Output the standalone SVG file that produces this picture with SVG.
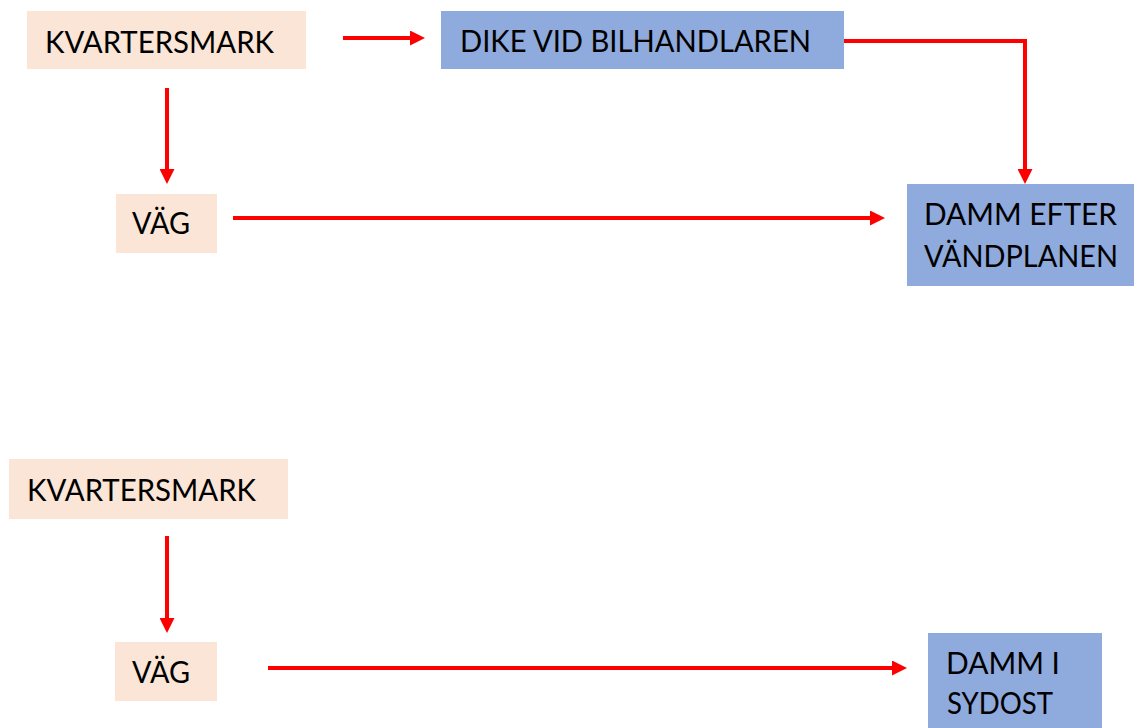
<svg xmlns="http://www.w3.org/2000/svg" width="1134" height="728" viewBox="0 0 1134 728">
<style>
.beige{fill:#FBE5D6}
.blue{fill:#8FAADC}
.lbl{font-family:Lato,"Open Sans","Liberation Sans",sans-serif;font-size:31.5px;fill:#000}
.con{fill:none;stroke:#FF0000;stroke-width:4;marker-end:url(#ah)}
</style>
<defs>
<marker id="ah" markerUnits="userSpaceOnUse" markerWidth="15" markerHeight="15" refX="3" refY="7.5" orient="auto">
<path d="M0,0 L15,7.5 L0,15 z" fill="#FF0000"/>
</marker>
</defs>
<rect width="1134" height="728" fill="#fff"/>
<g id="connectors">
<path class="con" d="M343,38 H413"/>
<path class="con" d="M167,88 V172"/>
<path class="con" d="M844,41 H1025 V172"/>
<path class="con" d="M233,218 H873"/>
<path class="con" d="M167,536 V621"/>
<path class="con" d="M268,668 H895"/>
</g>
<g id="kvartersmark1"><rect class="beige" x="27" y="11" width="279" height="58"/><text class="lbl" x="45" y="53" textLength="229" lengthAdjust="spacingAndGlyphs">KVARTERSMARK</text></g>
<g id="dike"><rect class="blue" x="441" y="11" width="403" height="58"/><text class="lbl" x="460" y="52" textLength="351" lengthAdjust="spacingAndGlyphs">DIKE VID BILHANDLAREN</text></g>
<g id="damm1"><rect class="blue" x="907" y="184" width="227" height="102"/><text class="lbl" x="924" y="225" textLength="193" lengthAdjust="spacingAndGlyphs">DAMM EFTER</text><text class="lbl" x="924" y="267" textLength="194" lengthAdjust="spacingAndGlyphs">VÄNDPLANEN</text></g>
<g id="vag1"><rect class="beige" x="116" y="194" width="101" height="59"/><text class="lbl" x="132" y="234" textLength="58" lengthAdjust="spacingAndGlyphs">VÄG</text></g>
<g id="kvartersmark2"><rect class="beige" x="9" y="459" width="279" height="60"/><text class="lbl" x="27" y="501" textLength="229" lengthAdjust="spacingAndGlyphs">KVARTERSMARK</text></g>
<g id="vag2"><rect class="beige" x="115" y="642" width="102" height="59"/><text class="lbl" x="132" y="683" textLength="58" lengthAdjust="spacingAndGlyphs">VÄG</text></g>
<g id="damm2"><rect class="blue" x="928" y="633" width="174" height="95"/><text class="lbl" x="946" y="674" textLength="114" lengthAdjust="spacingAndGlyphs">DAMM I</text><text class="lbl" x="947" y="714" textLength="106" lengthAdjust="spacingAndGlyphs">SYDOST</text></g>
</svg>
